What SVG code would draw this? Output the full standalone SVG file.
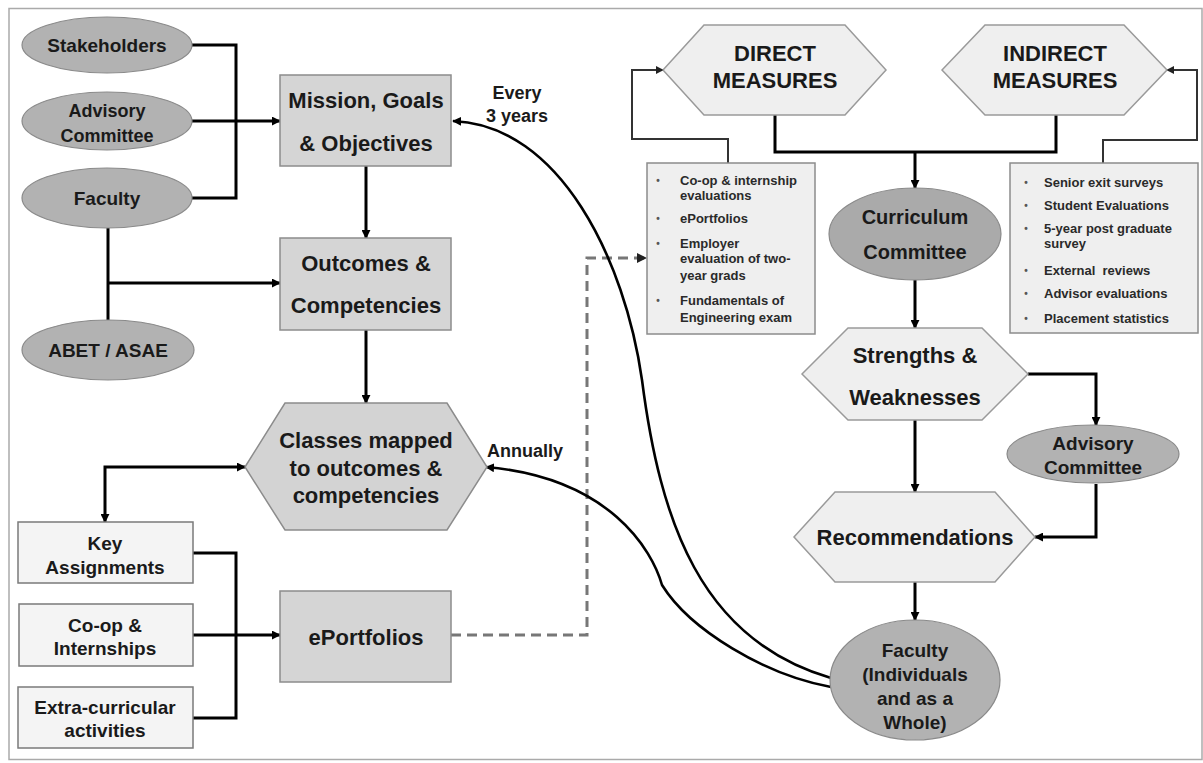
<svg xmlns="http://www.w3.org/2000/svg" width="1203" height="763" viewBox="0 0 1203 763">
<defs>
<marker id="ah" viewBox="0 0 10 10" refX="9" refY="5" markerWidth="9" markerHeight="9" markerUnits="userSpaceOnUse" orient="auto-start-reverse">
<path d="M0,0 L10,5 L0,10 Z" fill="#000"/>
</marker>
<marker id="ahs" viewBox="0 0 10 10" refX="9" refY="5" markerWidth="8" markerHeight="8" markerUnits="userSpaceOnUse" orient="auto">
<path d="M0,0 L10,5 L0,10 Z" fill="#222"/>
</marker>
<marker id="ahd" viewBox="0 0 10 10" refX="9" refY="5" markerWidth="10" markerHeight="10" markerUnits="userSpaceOnUse" orient="auto">
<path d="M0,0 L10,5 L0,10 Z" fill="#222"/>
</marker>
</defs>
<style>
text{font-family:"Liberation Sans",Arial,sans-serif;font-weight:bold;fill:#1a1a1a;text-anchor:middle}
.ell{fill:#b2b2b2;stroke:#8a8a8a;stroke-width:1.2}
.box{fill:#d5d5d5;stroke:#8c8c8c;stroke-width:1.5}
.lbox{fill:#f4f4f4;stroke:#7a7a7a;stroke-width:1.5}
.hexd{fill:#d3d3d3;stroke:#8c8c8c;stroke-width:1.5}
.hexl{fill:#efefef;stroke:#9a9a9a;stroke-width:1.5}
.list{fill:#efefef;stroke:#8c8c8c;stroke-width:1.5}
.t19{font-size:19px}
.t18{font-size:18px}
.t22{font-size:22px}
.t20{font-size:20px}
.li{font-size:13px;text-anchor:start;fill:#2a2a2a}
.bu{font-size:10px;text-anchor:middle;fill:#555}
.c{fill:none;stroke:#000;stroke-width:3}
.cs{fill:none;stroke:#333;stroke-width:2}
.cd{fill:none;stroke:#777;stroke-width:3;stroke-dasharray:10 6}
.cv{fill:none;stroke:#000;stroke-width:2.6}
</style>
<rect x="9" y="8.5" width="1193" height="751" fill="#fff" stroke="#aaa" stroke-width="1.5"/>

<g id="connectors">
<path class="c" d="M192,45 H236 V198 H192"/>
<path class="c" d="M192,121 H280" marker-end="url(#ah)"/>
<path class="c" d="M108,228 V320"/>
<path class="c" d="M108,283 H280" marker-end="url(#ah)"/>
<path class="c" d="M366,166 V238" marker-end="url(#ah)"/>
<path class="c" d="M366,330 V403" marker-end="url(#ah)"/>
<path class="c" d="M245,467 H105 V522" marker-start="url(#ah)" marker-end="url(#ah)"/>
<path class="c" d="M193,553 H236 V718 H193"/>
<path class="c" d="M193,635 H280" marker-end="url(#ah)"/>
<path class="cd" d="M451,635 H587 V258 H646" marker-end="url(#ahd)"/>
<path class="cs" d="M728,163 V139 H632 V70 H663" marker-end="url(#ahs)"/>
<path class="cs" d="M1103,163 V140 H1197 V70 H1167" marker-end="url(#ahs)"/>
<path class="c" d="M775,115 V152 H1056 V115"/>
<path class="c" d="M915,152 V188" marker-end="url(#ah)"/>
<path class="c" d="M915,280 V328" marker-end="url(#ah)"/>
<path class="c" d="M1028,374 H1096 V425" marker-end="url(#ah)"/>
<path class="c" d="M1096,484 V537 H1035" marker-end="url(#ah)"/>
<path class="c" d="M915,420 V492" marker-end="url(#ah)"/>
<path class="c" d="M915,582 V620" marker-end="url(#ah)"/>
<path class="cv" d="M831,678 C700,640 660,520 642,380 C625,260 560,125 453,121" marker-end="url(#ah)"/>
<path class="cv" d="M831,687 C765,675 690,630 662,585 C652,550 610,478 486,467" marker-end="url(#ah)"/>
</g>

<g id="stakeholders"><ellipse class="ell" cx="107" cy="45" rx="85" ry="28"/><text class="t19" x="107" y="52">Stakeholders</text></g>
<g id="advisory-left"><ellipse class="ell" cx="107" cy="121" rx="85" ry="29"/><text class="t18" x="107" y="116.5">Advisory</text><text class="t18" x="107" y="141.5">Committee</text></g>
<g id="faculty-left"><ellipse class="ell" cx="107" cy="198" rx="85" ry="30"/><text class="t19" x="107" y="205">Faculty</text></g>
<g id="abet"><ellipse class="ell" cx="108" cy="350" rx="86" ry="30"/><text class="t19" x="108" y="357">ABET / ASAE</text></g>

<g id="mission"><rect class="box" x="280" y="75" width="171" height="91"/><text class="t22" x="366" y="108">Mission, Goals</text><text class="t22" x="366" y="151">&amp; Objectives</text></g>
<g id="outcomes"><rect class="box" x="280" y="238" width="171" height="92"/><text class="t22" x="366" y="271">Outcomes &amp;</text><text class="t22" x="366" y="313">Competencies</text></g>
<g id="classes"><polygon class="hexd" points="245,467 285,403 447,403 487,467 447,530 285,530"/><text class="t22" x="366" y="448">Classes mapped</text><text class="t22" x="366" y="476">to outcomes &amp;</text><text class="t22" x="366" y="503">competencies</text></g>
<g id="eportfolios"><rect class="box" x="280" y="591" width="171" height="91"/><text class="t22" x="366" y="645">ePortfolios</text></g>

<g id="key-assignments"><rect class="lbox" x="18" y="522" width="175" height="61"/><text class="t19" x="105" y="550">Key</text><text class="t19" x="105" y="574">Assignments</text></g>
<g id="coop"><rect class="lbox" x="19" y="604" width="174" height="62"/><text class="t19" x="105" y="632">Co-op &amp;</text><text class="t19" x="105" y="655">Internships</text></g>
<g id="extra"><rect class="lbox" x="18" y="687" width="175" height="61"/><text class="t19" x="105" y="714">Extra-curricular</text><text class="t19" x="105" y="737">activities</text></g>

<g id="label-every"><text class="t18" x="517" y="98.5">Every</text><text class="t18" x="517" y="121.5">3 years</text></g>
<g id="label-annually"><text class="t18" x="525" y="456.5">Annually</text></g>

<g id="direct"><polygon class="hexl" points="663,70 704,25 845,25 886,70 845,115 704,115"/><text class="t22" x="775" y="61">DIRECT</text><text class="t22" x="775" y="88">MEASURES</text></g>
<g id="indirect"><polygon class="hexl" points="942,70 985,25 1124,25 1167,70 1124,115 985,115"/><text class="t22" x="1055" y="61">INDIRECT</text><text class="t22" x="1055" y="88">MEASURES</text></g>

<g id="direct-list"><rect class="list" x="647" y="163" width="168" height="171"/>
<text class="bu" x="658" y="184">•</text><text class="li" x="680" y="185">Co-op &amp; internship</text><text class="li" x="680" y="200">evaluations</text>
<text class="bu" x="658" y="222">•</text><text class="li" x="680" y="223">ePortfolios</text>
<text class="bu" x="658" y="247">•</text><text class="li" x="680" y="248">Employer</text><text class="li" x="680" y="263">evaluation of two-</text><text class="li" x="680" y="280">year grads</text>
<text class="bu" x="658" y="304">•</text><text class="li" x="680" y="305">Fundamentals of</text><text class="li" x="680" y="322">Engineering exam</text>
</g>
<g id="indirect-list"><rect class="list" x="1010" y="163" width="188" height="170"/>
<text class="bu" x="1026" y="186">•</text><text class="li" x="1044" y="187">Senior exit surveys</text>
<text class="bu" x="1026" y="209">•</text><text class="li" x="1044" y="210">Student Evaluations</text>
<text class="bu" x="1026" y="232">•</text><text class="li" x="1044" y="233">5-year post graduate</text><text class="li" x="1044" y="248">survey</text>
<text class="bu" x="1026" y="274">•</text><text class="li" x="1044" y="275" xml:space="preserve">External  reviews</text>
<text class="bu" x="1026" y="297">•</text><text class="li" x="1044" y="298">Advisor evaluations</text>
<text class="bu" x="1026" y="322">•</text><text class="li" x="1044" y="323">Placement statistics</text>
</g>

<g id="curriculum"><ellipse class="ell" cx="915" cy="234" rx="86" ry="46" style="fill:#aaaaaa"/><text class="t20" x="915" y="224">Curriculum</text><text class="t20" x="915" y="259">Committee</text></g>
<g id="strengths"><polygon class="hexl" points="802,374 848,328 982,328 1028,374 982,420 848,420"/><text class="t22" x="915" y="363">Strengths &amp;</text><text class="t22" x="915" y="405">Weaknesses</text></g>
<g id="advisory-right"><ellipse class="ell" cx="1093" cy="454" rx="86" ry="29"/><text class="t19" x="1093" y="450">Advisory</text><text class="t19" x="1093" y="474">Committee</text></g>
<g id="recommendations"><polygon class="hexl" points="794,537 835,492 995,492 1035,537 995,582 835,582"/><text class="t22" x="915" y="545">Recommendations</text></g>
<g id="faculty-whole"><ellipse class="ell" cx="915" cy="680" rx="85" ry="60"/><text class="t19" x="915" y="657">Faculty</text><text class="t19" x="915" y="681">(Individuals</text><text class="t19" x="915" y="705">and as a</text><text class="t19" x="915" y="729">Whole)</text></g>
</svg>
